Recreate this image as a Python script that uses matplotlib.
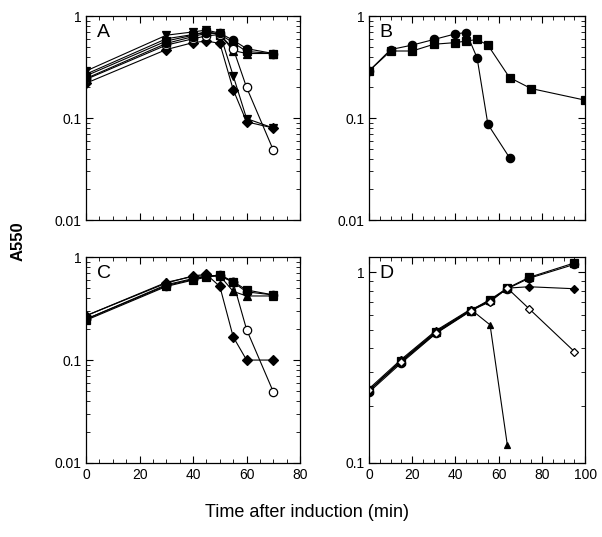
import matplotlib
matplotlib.use("Agg")
import matplotlib.pyplot as plt
from matplotlib.ticker import MultipleLocator, LogLocator, FixedFormatter, FixedLocator, NullFormatter

plt.rcParams['font.family'] = ['Liberation Sans', 'DejaVu Sans']

# Panel A
a_t = [0, 30, 40, 45, 50, 55, 60, 70]
a_circle = [0.245, 0.54, 0.63, 0.68, 0.68, 0.58, 0.48, 0.43]
a_square = [0.26, 0.57, 0.65, 0.70, 0.66, 0.55, 0.45, 0.43]
a_tri_up = [0.27, 0.60, 0.66, 0.70, 0.66, 0.46, 0.43, 0.43]
a_tri_down = [0.29, 0.65, 0.70, 0.73, 0.68, 0.26, 0.099, 0.08]
a_diamond = [0.22, 0.47, 0.55, 0.57, 0.54, 0.19, 0.092, 0.08]
a_open = [0.24, 0.52, 0.60, 0.64, 0.66, 0.48, 0.20, 0.0485]

# Panel B
b_t_circle = [0, 10, 20, 30, 40, 45, 50, 55, 65]
b_circle = [0.29, 0.47, 0.52, 0.59, 0.67, 0.69, 0.39, 0.087, 0.041]
b_t_square = [0, 10, 20, 30, 40, 45, 50, 55, 65, 75, 100]
b_square = [0.29, 0.455, 0.455, 0.53, 0.55, 0.57, 0.59, 0.52, 0.25, 0.195, 0.15]

# Panel C
c_t = [0, 30, 40, 45, 50, 55, 60, 70]
c_square = [0.244, 0.52, 0.60, 0.64, 0.675, 0.58, 0.48, 0.43]
c_circle = [0.25, 0.53, 0.61, 0.65, 0.67, 0.57, 0.46, 0.43]
c_tri_up = [0.27, 0.57, 0.65, 0.66, 0.66, 0.465, 0.42, 0.42]
c_diamond = [0.27, 0.56, 0.66, 0.68, 0.52, 0.168, 0.10, 0.10]
c_open = [0.25, 0.54, 0.62, 0.65, 0.66, 0.57, 0.198, 0.049]

# Panel D
d_t = [0, 15, 31, 47, 56, 64, 74, 95]
d_square = [0.24, 0.343, 0.485, 0.63, 0.72, 0.826, 0.94, 1.12]
d_circle = [0.235, 0.335, 0.478, 0.625, 0.71, 0.82, 0.93, 1.10]
d_t_tri = [0, 15, 31, 47, 56, 64]
d_tri = [0.245, 0.35, 0.495, 0.64, 0.53, 0.124]
d_diamond = [0.24, 0.345, 0.49, 0.635, 0.71, 0.826, 0.84, 0.82]
d_open = [0.24, 0.34, 0.48, 0.63, 0.70, 0.826, 0.645, 0.384]

fig = plt.figure(figsize=(6.02, 5.37), dpi=100)
axA = fig.add_axes([0.143, 0.590, 0.3555, 0.380])
axB = fig.add_axes([0.613, 0.590, 0.359, 0.380])
axC = fig.add_axes([0.143, 0.138, 0.3555, 0.383])
axD = fig.add_axes([0.613, 0.138, 0.359, 0.383])

lw = 0.8
ms = 6


def line(ax, x, y, marker, filled=True, size=ms):
    ax.plot(x, y, color='black', lw=lw, marker=marker, markersize=size,
            markerfacecolor='black' if filled else 'white',
            markeredgecolor='black', markeredgewidth=0.9)


line(axA, a_t, a_diamond, 'D', size=5)
line(axA, a_t, a_tri_down, 'v')
line(axA, a_t, a_tri_up, '^')
line(axA, a_t, a_square, 's')
line(axA, a_t, a_open, 'o', filled=False)
line(axA, a_t, a_circle, 'o')

line(axB, b_t_square, b_square, 's')
line(axB, b_t_circle, b_circle, 'o')

line(axC, c_t, c_diamond, 'D', size=5)
line(axC, c_t, c_tri_up, '^')
line(axC, c_t, c_circle, 'o')
line(axC, c_t, c_open, 'o', filled=False)
line(axC, c_t, c_square, 's')

line(axD, d_t, d_circle, 'o')
line(axD, d_t, d_square, 's')
line(axD, d_t_tri, d_tri, '^', size=5)
line(axD, d_t, d_diamond, 'D', size=4.5)
line(axD, d_t, d_open, 'D', filled=False, size=4.5)

for ax, xmax, ylim, letter in [(axA, 80, (0.01, 1), 'A'), (axB, 100, (0.01, 1), 'B'),
                               (axC, 80, (0.01, 1), 'C'), (axD, 100, (0.1, 1.2), 'D')]:
    ax.set_yscale('log')
    ax.set_xlim(0, xmax)
    ax.set_ylim(*ylim)
    ax.xaxis.set_major_locator(MultipleLocator(20))
    ax.xaxis.set_minor_locator(MultipleLocator(5))
    ax.yaxis.set_major_locator(LogLocator(base=10))
    ax.yaxis.set_minor_locator(LogLocator(base=10, subs=range(2, 10)))
    ax.yaxis.set_minor_formatter(NullFormatter())
    ax.yaxis.set_major_formatter(plt.FuncFormatter(lambda v, p: f"{v:g}"))
    ax.tick_params(which='both', direction='in', top=True, right=True, labelsize=10)
    ax.tick_params(which='major', length=5, width=0.8)
    ax.tick_params(which='minor', length=3, width=0.6)
    for s in ax.spines.values():
        s.set_linewidth(0.9)
    ax.text(0.05, 0.96, letter, transform=ax.transAxes, fontsize=14, va='top', ha='left')

axA.tick_params(labelbottom=False)
axB.tick_params(labelbottom=False)

fig.text(0.03, 0.55, 'A550', rotation=90, fontsize=12, fontweight='bold', va='center', ha='center')
fig.text(0.51, 0.045, 'Time after induction (min)', fontsize=13, ha='center', va='center')

fig.savefig('out.png', dpi=100)
